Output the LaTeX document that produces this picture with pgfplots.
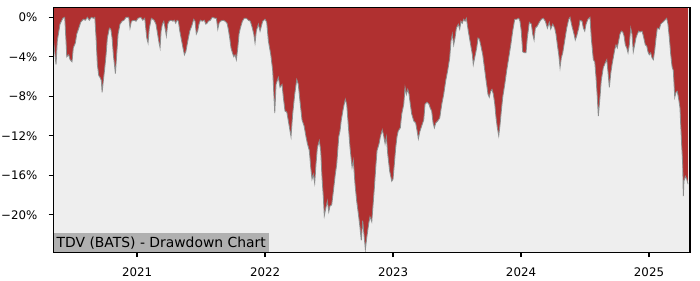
\documentclass[border=0pt]{standalone}
\usepackage{fontspec}
\setmainfont{DejaVu Sans}
\usepackage{pgfplots}
\pgfplotsset{compat=1.18}
\usepackage{pgfplotstable}
\definecolor{ddred}{HTML}{B03030}
\definecolor{bg}{HTML}{EEEEEE}
\definecolor{edge}{HTML}{8C8C8C}
\definecolor{lbl}{HTML}{B0B0B0}
\pgfplotstableread{
x y
2020.348 -2.4
2020.367 -4.8
2020.377 -2.4
2020.398 -0.7
2020.420 -0.1
2020.435 0
2020.445 -2.4
2020.451 -4.0
2020.466 -3.8
2020.477 -4.3
2020.492 -4.5
2020.502 -3.1
2020.518 -2.6
2020.529 -1.7
2020.545 -1.1
2020.560 -0.5
2020.581 -0.2
2020.596 -0.3
2020.612 0
2020.627 -0.3
2020.643 0
2020.659 -0.1
2020.670 0
2020.680 -2.1
2020.690 -4.8
2020.701 -5.9
2020.711 -6.1
2020.721 -6.4
2020.727 -7.6
2020.737 -6.4
2020.748 -5.1
2020.758 -3.8
2020.768 -2.1
2020.784 -1.1
2020.795 -1.2
2020.805 -2.1
2020.815 -3.8
2020.826 -5.1
2020.831 -5.7
2020.841 -3.8
2020.852 -1.7
2020.867 -0.7
2020.883 -0.4
2020.898 -0.3
2020.914 0
2020.935 0
2020.945 -1.1
2020.956 -0.4
2020.977 -0.3
2020.992 -0.4
2021.008 -0.1
2021.029 0
2021.045 -0.3
2021.060 -0.1
2021.076 -2.1
2021.086 -2.6
2021.096 -1.1
2021.112 -0.1
2021.133 -0.3
2021.148 -0.7
2021.172 -2.6
2021.180 -3.1
2021.188 -1.4
2021.198 -0.7
2021.209 -0.4
2021.219 -1.1
2021.229 -1.9
2021.240 -0.7
2021.250 -0.4
2021.266 -0.3
2021.281 -0.4
2021.291 -0.3
2021.302 -0.6
2021.313 -0.3
2021.323 -0.4
2021.334 -1.4
2021.344 -2.1
2021.359 -3.1
2021.370 -3.8
2021.381 -3.5
2021.391 -2.8
2021.401 -2.1
2021.412 -1.4
2021.427 -0.9
2021.443 -0.2
2021.453 -0.4
2021.463 -1.7
2021.474 -1.4
2021.484 -0.7
2021.495 -0.3
2021.510 -0.4
2021.526 -0.3
2021.537 -0.7
2021.547 -0.6
2021.557 -0.4
2021.573 -0.3
2021.588 0
2021.609 -0.1
2021.620 -0.1
2021.631 -1.2
2021.641 -0.6
2021.651 -0.4
2021.672 -0.3
2021.688 -0.4
2021.703 -0.6
2021.713 -1.2
2021.724 -2.1
2021.734 -3.1
2021.745 -3.6
2021.756 -4.0
2021.766 -3.8
2021.776 -4.3
2021.787 -3.1
2021.797 -1.7
2021.807 -1.1
2021.823 -0.4
2021.838 -0.1
2021.854 -0.1
2021.870 -0.3
2021.885 -0.4
2021.901 -1.1
2021.912 -1.7
2021.922 -2.6
2021.932 -1.4
2021.948 -0.7
2021.961 -1.4
2021.982 -0.4
2022.000 -0.2
2022.013 -0.5
2022.026 -2.4
2022.045 -3.8
2022.060 -5.4
2022.070 -8.1
2022.076 -9.7
2022.086 -6.8
2022.104 -6.1
2022.117 -7.1
2022.133 -6.8
2022.143 -8.1
2022.156 -9.5
2022.170 -9.6
2022.182 -10.5
2022.195 -11.5
2022.203 -12.1
2022.216 -9.8
2022.232 -7.8
2022.248 -6.3
2022.260 -6.8
2022.273 -8.5
2022.289 -10.4
2022.305 -11.0
2022.320 -12.1
2022.331 -12.8
2022.346 -13.5
2022.357 -15.2
2022.367 -16.4
2022.377 -15.9
2022.388 -16.8
2022.398 -14.9
2022.409 -13.2
2022.424 -12.5
2022.435 -13.5
2022.445 -16.2
2022.456 -18.3
2022.463 -20.1
2022.477 -19.2
2022.487 -18.6
2022.498 -19.7
2022.508 -19.1
2022.521 -19.0
2022.534 -17.6
2022.549 -15.9
2022.560 -14.9
2022.576 -12.1
2022.586 -11.5
2022.596 -10.4
2022.612 -9.2
2022.627 -8.3
2022.638 -8.8
2022.648 -10.5
2022.664 -13.2
2022.680 -15.2
2022.690 -14.5
2022.703 -16.9
2022.716 -18.6
2022.732 -20.2
2022.742 -21.3
2022.752 -22.6
2022.763 -20.6
2022.773 -22.0
2022.784 -23.5
2022.795 -22.3
2022.810 -20.9
2022.820 -20.2
2022.834 -20.7
2022.844 -19.0
2022.854 -17.3
2022.865 -15.2
2022.875 -13.5
2022.891 -12.8
2022.901 -12.1
2022.916 -11.4
2022.927 -12.0
2022.938 -12.8
2022.948 -12.1
2022.959 -13.9
2022.974 -15.6
2022.990 -16.6
2023.000 -16.4
2023.010 -14.9
2023.021 -13.2
2023.031 -12.1
2023.041 -11.5
2023.057 -11.2
2023.068 -9.8
2023.084 -8.8
2023.094 -7.1
2023.104 -7.8
2023.115 -7.3
2023.125 -7.8
2023.135 -8.8
2023.146 -9.8
2023.162 -10.5
2023.177 -10.7
2023.188 -11.5
2023.198 -12.3
2023.209 -11.6
2023.224 -11.0
2023.240 -10.4
2023.250 -8.8
2023.266 -8.6
2023.281 -8.8
2023.291 -9.2
2023.302 -9.5
2023.313 -10.7
2023.323 -11.2
2023.334 -10.7
2023.349 -10.5
2023.365 -10.2
2023.381 -8.8
2023.396 -7.8
2023.412 -6.4
2023.427 -5.4
2023.443 -4.1
2023.453 -2.4
2023.463 -1.7
2023.474 -2.8
2023.484 -2.1
2023.495 -1.1
2023.510 -0.7
2023.521 -1.2
2023.531 -0.4
2023.541 -0.6
2023.552 -0.2
2023.563 -0.4
2023.573 -0.1
2023.588 -1.4
2023.604 -2.6
2023.620 -3.8
2023.627 -4.8
2023.638 -4.1
2023.654 -3.1
2023.664 -2.1
2023.674 -2.2
2023.685 -2.8
2023.701 -3.8
2023.711 -4.8
2023.727 -6.4
2023.742 -7.8
2023.752 -8.1
2023.763 -7.5
2023.773 -7.3
2023.784 -7.8
2023.795 -8.8
2023.805 -10.2
2023.815 -11.2
2023.826 -12.0
2023.836 -10.9
2023.846 -9.5
2023.857 -8.1
2023.873 -6.8
2023.888 -5.4
2023.904 -4.1
2023.920 -2.8
2023.935 -1.4
2023.951 -0.2
2023.966 -0.2
2023.982 -0.1
2023.992 -0.4
2024.002 -1.4
2024.013 -3.5
2024.029 -3.6
2024.039 -3.6
2024.049 -2.1
2024.065 -0.5
2024.081 -0.7
2024.091 -1.7
2024.102 -2.3
2024.112 -1.1
2024.127 -0.9
2024.143 -0.5
2024.159 -0.2
2024.174 -0.1
2024.190 -0.4
2024.206 -1.1
2024.221 -0.5
2024.232 -1.2
2024.248 -0.7
2024.263 -1.1
2024.273 -1.7
2024.284 -2.8
2024.295 -3.8
2024.305 -5.1
2024.315 -4.1
2024.326 -3.6
2024.341 -2.4
2024.357 -1.1
2024.373 -0.2
2024.383 0
2024.398 -0.9
2024.414 -1.7
2024.424 -2.3
2024.435 -1.9
2024.451 -1.1
2024.461 -0.3
2024.477 -0.4
2024.487 -1.1
2024.498 -1.4
2024.508 -0.7
2024.523 -0.2
2024.539 0
2024.549 -2.1
2024.565 -4.3
2024.576 -4.5
2024.586 -6.1
2024.596 -8.1
2024.604 -10.0
2024.617 -8.1
2024.627 -6.4
2024.643 -5.1
2024.659 -4.6
2024.670 -4.3
2024.680 -5.6
2024.690 -7.1
2024.701 -5.7
2024.711 -4.8
2024.721 -4.1
2024.732 -3.3
2024.742 -2.8
2024.752 -3.1
2024.763 -2.4
2024.773 -1.7
2024.784 -1.4
2024.795 -1.5
2024.805 -1.9
2024.815 -2.8
2024.826 -3.1
2024.836 -3.6
2024.846 -2.8
2024.857 -1.1
2024.867 -1.7
2024.877 -3.5
2024.888 -2.8
2024.898 -2.1
2024.909 -1.7
2024.920 -1.4
2024.930 -1.5
2024.945 -1.4
2024.956 -1.9
2024.971 -2.8
2024.982 -2.9
2024.992 -3.5
2025.002 -3.8
2025.013 -3.6
2025.023 -4.1
2025.034 -4.3
2025.045 -3.3
2025.055 -2.1
2025.065 -1.1
2025.081 -1.2
2025.091 -0.7
2025.107 -0.5
2025.123 -0.3
2025.138 -0.1
2025.148 -0.7
2025.159 -2.1
2025.170 -3.8
2025.180 -5.0
2025.190 -5.4
2025.201 -8.1
2025.211 -7.6
2025.221 -7.5
2025.232 -8.3
2025.242 -9.2
2025.252 -12.1
2025.263 -14.9
2025.268 -18.1
2025.273 -16.6
2025.284 -16.1
2025.295 -16.4
2025.305 -16.9
}\dd
\begin{document}
\begin{tikzpicture}
\path[use as bounding box] (-38.4pt,-19.94pt) rectangle (465.6pt,181.66pt);
\begin{axis}[
  at={(0,0)}, anchor=south west,
  scale only axis, width=458.4pt, height=176.4pt,
  xmin=2020.346, xmax=2025.3203, ymin=-23.8, ymax=1.01,
  axis background/.style={fill=ddred},
  axis on top,
  axis line style={line width=0.8pt, black},
  tick pos=left,
  tick align=outside,
  major tick length=3.5pt,
  every tick/.style={line width=0.8pt, black},
  xtick={2021,2022,2023,2024,2025},
  xticklabels={2021,2022,2023,2024,2025},
  ytick={-20,-16,-12,-8,-4,0},
  yticklabels={−20\%,−16\%,−12\%,−8\%,−4\%,0\%},
  ticklabel style={font=\fontsize{8.5}{10}\selectfont, inner sep=0pt},
  yticklabel style={xshift=-7.9pt},
  xticklabel style={yshift=-7.5pt},
  minor tick num=0,
]
\addplot[fill=bg, draw=none] table[x=x, y=y] {\dd}
  -- (axis cs:2025.305,5) -- (axis cs:2025.40,5) -- (axis cs:2025.40,-30)
  -- (axis cs:2020.30,-30) -- (axis cs:2020.30,-2.4) -- cycle;
\addplot[edge, line width=0.6pt] table[x=x, y=y] {\dd};
\node[anchor=south west, fill=lbl, inner xsep=2.2pt, inner ysep=0pt,
  text height=10pt, text depth=3.4pt, font=\fontsize{10}{12}\selectfont]
  at (rel axis cs:0,0) {TDV (BATS) - Drawdown Chart};
\end{axis}
\end{tikzpicture}
\end{document}
